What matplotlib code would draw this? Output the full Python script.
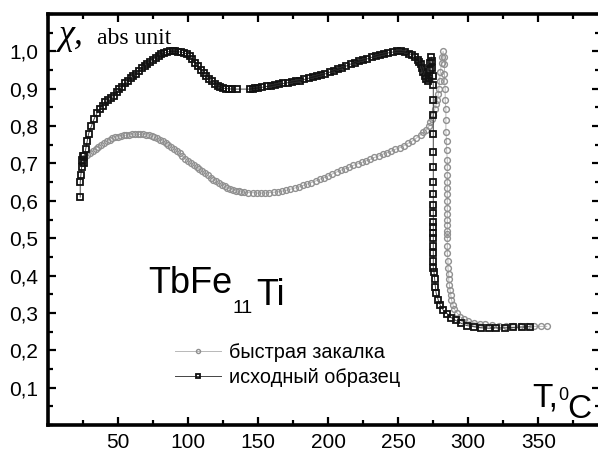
import numpy as np
from matplotlib import pyplot as plt
from matplotlib.ticker import MultipleLocator, FuncFormatter

plt.rcParams['font.family'] = ['Liberation Sans', 'DejaVu Sans']

# "исходный образец" (black squares)
t_orig = [23, 23, 23.5, 24, 24, 25, 25.5, 26, 27, 28, 29, 31, 33, 35, 37, 39, 41, 43, 45, 47,
          49, 51, 53, 55, 57, 59, 61, 63, 65, 67, 69, 71, 73, 75, 77, 79, 81, 83, 85, 87,
          89, 91, 93, 95, 97, 99, 101, 103, 105, 107, 109, 111, 113, 115, 117, 119, 121, 123, 125, 127,
          129, 131, 135, 144, 146, 148, 150, 153, 156, 159, 162, 165, 168, 171, 174, 177, 180, 183, 186, 189,
          192, 195, 198, 201, 204, 207, 210, 213, 216, 219, 222, 225, 228, 231, 234, 237, 240, 243, 246, 249,
          252, 255, 258, 260, 262, 264, 265, 266, 267, 268, 269, 270, 271, 272, 273, 273, 273.5, 274, 274, 274.5,
          275, 275, 275, 275, 275, 275, 275, 275, 275, 275, 275, 275, 275, 275, 275, 275, 275, 275, 275.5, 276,
          276.5, 277, 278.5, 280, 282, 285, 288, 291, 295, 299, 304, 309, 315, 320, 326, 332, 338, 344]
chi_orig = [0.61, 0.65, 0.67, 0.69, 0.71, 0.72, 0.70, 0.72, 0.74, 0.76, 0.78, 0.80, 0.82, 0.835, 0.845, 0.855, 0.865, 0.87, 0.875, 0.88,
            0.89, 0.90, 0.905, 0.915, 0.92, 0.93, 0.935, 0.94, 0.948, 0.955, 0.96, 0.965, 0.972, 0.978, 0.983, 0.988, 0.992, 0.995, 0.998, 1.0,
            1.0, 1.0, 0.999, 0.998, 0.996, 0.993, 0.988, 0.98, 0.97, 0.96, 0.95, 0.942, 0.935, 0.927, 0.92, 0.913, 0.908, 0.905, 0.902, 0.90,
            0.90, 0.899, 0.899, 0.899, 0.90, 0.901, 0.902, 0.904, 0.906, 0.908, 0.91, 0.912, 0.914, 0.916, 0.918, 0.92, 0.922, 0.925, 0.928, 0.931,
            0.934, 0.937, 0.94, 0.944, 0.948, 0.952, 0.956, 0.961, 0.966, 0.97, 0.974, 0.977, 0.98, 0.984, 0.988, 0.991, 0.993, 0.996, 0.998, 1.0,
            1.0, 0.998, 0.994, 0.99, 0.985, 0.978, 0.972, 0.965, 0.955, 0.945, 0.935, 0.925, 0.92, 0.93, 0.95, 0.97, 0.985, 0.975, 0.955, 0.935,
            0.91, 0.87, 0.83, 0.78, 0.73, 0.69, 0.65, 0.617, 0.59, 0.568, 0.544, 0.53, 0.515, 0.50, 0.48, 0.46, 0.44, 0.42, 0.41, 0.39,
            0.37, 0.354, 0.335, 0.32, 0.308, 0.298, 0.287, 0.28, 0.272, 0.266, 0.263, 0.26, 0.259, 0.26, 0.26, 0.261, 0.262, 0.263]

# "быстрая закалка" (gray circles)
t_quench = [24, 25, 26, 28, 30, 32, 34, 36, 38, 40, 42, 44, 46, 48, 50, 52, 54, 56, 58, 60,
            62, 64, 66, 68, 70, 72, 74, 76, 78, 80, 82, 84, 86, 88, 90, 92, 94, 96, 98, 100,
            102, 104, 106, 108, 110, 112, 114, 116, 118, 120, 122, 124, 126, 128, 130, 132, 134, 136, 138, 140,
            143, 146, 149, 152, 155, 158, 161, 164, 167, 170, 173, 176, 179, 182, 185, 188, 191, 194, 197, 200,
            203, 206, 209, 212, 215, 218, 221, 224, 227, 230, 233, 236, 239, 242, 245, 248, 251, 254, 257, 260,
            263, 266, 268, 270, 272, 273, 274, 275, 276, 277, 278, 278.5, 279, 279.5, 280, 281, 281.5, 282, 282.5, 283,
            283, 283, 283.5, 283.5, 284, 284, 284, 284.5, 284.5, 285, 285, 285, 285, 285, 285, 285, 285, 285, 285,
            285, 285, 285, 285, 285, 285, 285.5, 285.5, 286, 286, 286.5, 287, 287.5, 288, 289, 290, 292, 294, 297, 300,
            304, 308, 312, 317, 322, 327, 332, 337, 342, 347, 352, 356]
chi_quench = [0.70, 0.71, 0.715, 0.722, 0.728, 0.734, 0.74, 0.745, 0.75, 0.755, 0.76, 0.764, 0.767, 0.77, 0.772, 0.774, 0.775, 0.776, 0.777, 0.778,
              0.778, 0.778, 0.778, 0.778, 0.777, 0.775, 0.773, 0.77, 0.767, 0.764, 0.76, 0.755, 0.75, 0.745, 0.74, 0.734, 0.728, 0.72, 0.713, 0.707,
              0.70, 0.695, 0.69, 0.685, 0.68, 0.674, 0.668, 0.662, 0.657, 0.652, 0.647, 0.643, 0.639, 0.635, 0.632, 0.629, 0.627, 0.625, 0.624, 0.623,
              0.622, 0.622, 0.621, 0.621, 0.621, 0.622, 0.623, 0.624, 0.626, 0.628, 0.631, 0.634, 0.637, 0.641, 0.645, 0.649, 0.653, 0.658, 0.662, 0.667,
              0.672, 0.677, 0.682, 0.686, 0.69, 0.695, 0.699, 0.703, 0.707, 0.711, 0.716, 0.72, 0.725, 0.729, 0.733, 0.738, 0.742, 0.748, 0.754, 0.76,
              0.768, 0.777, 0.784, 0.79, 0.80, 0.81, 0.82, 0.83, 0.845, 0.858, 0.87, 0.885, 0.90, 0.92, 0.944, 0.97, 0.985, 1.0, 0.985, 0.965,
              0.94, 0.92, 0.90, 0.87, 0.845, 0.815, 0.785, 0.76, 0.737, 0.71, 0.69, 0.67, 0.65, 0.633, 0.617, 0.60, 0.58, 0.565, 0.55,
              0.535, 0.52, 0.51, 0.50, 0.48, 0.46, 0.44, 0.42, 0.405, 0.39, 0.375, 0.36, 0.348, 0.335, 0.322, 0.31, 0.30, 0.29, 0.283, 0.278,
              0.274, 0.271, 0.269, 0.267, 0.266, 0.265, 0.265, 0.264, 0.264, 0.264, 0.264, 0.264]

labels = ['быстрая закалка', 'исходный образец']
y_ticks = [0.1, 0.2, 0.3, 0.4, 0.5, 0.6, 0.7, 0.8, 0.9, 1.0]
x_ticks = [50, 100, 150, 200, 250, 300, 350]

fig = plt.figure(figsize=(5.98, 4.53), dpi=100)
ax = fig.add_axes([48 / 598, 28 / 453, 552 / 598, 411 / 453])

ax.plot(t_quench, chi_quench, color='#b8b8b8', lw=0.7, marker='o', ms=4.2, mfc='none',
        mec='#909090', mew=1.0, label=labels[0])
ax.plot(t_orig, chi_orig, color='#444444', lw=0.7, marker='s', ms=4.0, mfc='none',
        mec='#111111', mew=1.3, label=labels[1])

ax.set_xlim(0, 394)
ax.set_ylim(0, 1.1)
ax.set_xticks(x_ticks)
ax.set_yticks(y_ticks)
ax.xaxis.set_minor_locator(MultipleLocator(25))
ax.yaxis.set_minor_locator(MultipleLocator(0.05))
ax.yaxis.set_major_formatter(FuncFormatter(lambda v, p: f"{v:.1f}".replace('.', ',')))
ax.tick_params(which='both', direction='in', top=True, right=True, width=1.6)
ax.tick_params(which='major', length=5.5, labelsize=15)
ax.tick_params(axis='x', which='major', pad=6)
ax.tick_params(axis='y', which='major', pad=7)
ax.tick_params(which='minor', length=3.5)
for s in ax.spines.values():
    s.set_linewidth(2.6)

# axis labels inside the frame (positions in data units)
ax.text(8, 1.02, 'χ,', fontsize=26, family='Liberation Serif', style='italic', va='baseline')
ax.text(35, 1.02, 'abs unit', fontsize=17, family='Liberation Serif', va='baseline')

t1 = ax.text(71.4, 0.354, 'TbFe', fontsize=26, va='baseline')
t2 = ax.annotate('11', xy=(1, 0), xycoords=t1, xytext=(0, -8.5), textcoords='offset points',
                 fontsize=14, va='baseline')
ax.annotate('Ti', xy=(1, 0), xycoords=t2, xytext=(3, 8.5), textcoords='offset points',
            fontsize=26, va='baseline')

t3 = ax.text((532 - 48) / 1.4, (425 - 407) / 373, 'T,', fontsize=24, va='baseline')
t4 = ax.annotate('0', xy=(1, 0), xycoords=t3, xytext=(0, 10), textcoords='offset points',
                 fontsize=13, va='baseline')
ax.annotate('C', xy=(1, 0), xycoords=t4, xytext=(-1, -10), textcoords='offset points',
            fontsize=24, va='baseline')

ax.legend(loc='upper left', bbox_to_anchor=((175 - 48) / 552, 0.2), frameon=False,
          fontsize=14.3, handlelength=2.3, handletextpad=0.4, labelspacing=0.3,
          borderpad=0, borderaxespad=0, markerscale=0.7)

plt.savefig('out.png', dpi=100)
